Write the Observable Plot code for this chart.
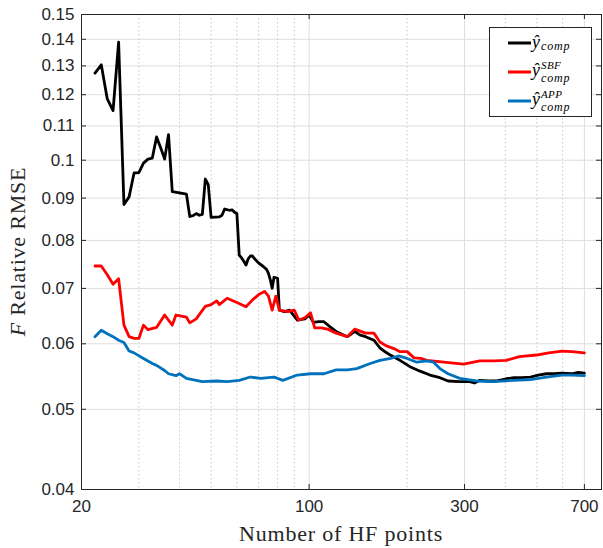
<!DOCTYPE html>
<html>
<head>
<meta charset="utf-8">
<script src="https://cdn.jsdelivr.net/npm/d3@7"></script>
<script src="https://cdn.jsdelivr.net/npm/@observablehq/plot@0.6"></script>
<style>
  html, body { margin: 0; padding: 0; background: white; }
  #wrap { position: relative; width: 603px; height: 548px; }
  #legend { position: absolute; left: 0; top: 0; pointer-events: none; }
</style>
</head>
<body>
<div id="wrap"></div>
<script>
// ---- data ----
const blackX = [22,23,24,25,26,27,28,29,30,31,32,33,34,35,36,37,38,40,42,43,44,45,46,47,48,49,50,53,54,55,57,58,59,60,61,62,63,64,65,66,67,68,70,72,74,75,76,77,78,80,81,84,87,90,92,97,100,103,107,111,116,121,126,131,135,138,143,149,158,165,172,178,190,204,219,235,252,267,290,311,322,334,355,377,400,425,450,478,505,535,565,597,640,670,700];
const blackY = [0.1274,0.1304,0.1186,0.1148,0.1389,0.0884,0.0903,0.0965,0.0966,0.0992,0.1003,0.1006,0.1067,0.1035,0.1003,0.1074,0.0916,0.0913,0.0910,0.0855,0.0857,0.0862,0.0858,0.0860,0.0949,0.0934,0.0853,0.0854,0.0858,0.0873,0.0870,0.0871,0.0865,0.0862,0.0768,0.0762,0.0755,0.0747,0.0760,0.0766,0.0766,0.0760,0.0751,0.0745,0.0738,0.0730,0.0717,0.0700,0.0722,0.0720,0.0659,0.0656,0.0659,0.0648,0.0641,0.0643,0.0650,0.0637,0.0638,0.0638,0.0629,0.0621,0.0616,0.0612,0.0617,0.0621,0.0615,0.0612,0.0606,0.0593,0.0586,0.0581,0.0573,0.0563,0.0556,0.0550,0.0546,0.0541,0.0540,0.0540,0.0538,0.0542,0.0541,0.0541,0.0544,0.0546,0.0546,0.0547,0.0550,0.0552,0.0552,0.0553,0.0552,0.0554,0.0553];

const redX = [22,23,24,25,26,27,28,29,30,31,32,34,36,38,39,42,43,45,48,50,52,53,56,60,64,67,70,73,75,77,79,81,86,90,93,97,101,104,109,114,121,131,138,149,158,165,172,182,190,200,210,220,230,259,298,334,370,403,442,508,544,597,640,700];
const redY = [0.0745,0.0745,0.0727,0.0708,0.0719,0.0632,0.0612,0.0609,0.0609,0.0632,0.0624,0.0628,0.0650,0.0632,0.0650,0.0646,0.0636,0.0643,0.0666,0.0669,0.0676,0.0669,0.0681,0.0673,0.0665,0.0678,0.0688,0.0694,0.0685,0.0659,0.0685,0.0659,0.0656,0.0659,0.0641,0.0645,0.0654,0.0627,0.0627,0.0625,0.0618,0.0612,0.0625,0.0618,0.0618,0.0603,0.0597,0.0592,0.0587,0.0587,0.0577,0.0576,0.0573,0.0570,0.0567,0.0572,0.0572,0.0573,0.0579,0.0582,0.0585,0.0588,0.0587,0.0585];

const blueX = [22,23,24,25,26,27,28,29,31,33,34,36,37,39,40,42,45,47,52,56,61,66,71,78,83,92,101,111,121,131,140,154,165,178,188,200,214,230,241,252,267,290,326,368,425,478,535,597,640,700];
const blueY = [0.0612,0.0623,0.0617,0.0612,0.0606,0.0602,0.0588,0.0585,0.0576,0.0568,0.0565,0.0557,0.0552,0.0549,0.0552,0.0545,0.0542,0.0540,0.0541,0.0540,0.0542,0.0547,0.0545,0.0547,0.0542,0.0550,0.0552,0.0552,0.0558,0.0558,0.0560,0.0568,0.0573,0.0576,0.0580,0.0576,0.0570,0.0572,0.0570,0.0560,0.0552,0.0545,0.0541,0.0540,0.0542,0.0543,0.0547,0.0550,0.0550,0.0549];

const xTicks = [20, 100, 300, 700];
const xTickLabels = ["20", "100", "300", "700"];
const xMinor = [30, 40, 50, 60, 70, 80, 90, 200, 400, 500, 600];
const yTicks = [0.04, 0.05, 0.06, 0.07, 0.08, 0.09, 0.10, 0.11, 0.12, 0.13, 0.14, 0.15];
const yTickLabels = ["0.04","0.05","0.06","0.07","0.08","0.09","0.1","0.11","0.12","0.13","0.14","0.15"];

const seriesColors = ["#000000", "#ff0000", "#0072bd"];

// ---- layout ----
const W = 603, H = 548, mL = 81, mR = 2, mT = 14, mB = 59;
const innerW = W - mL - mR, innerH = H - mT - mB;
const axisColor = "#262626";

const toRows = (xs, ys) => xs.map((x, i) => ({x, y: ys[i]}));
const tickFont = "'Liberation Sans', Arial, sans-serif";

const plot = Plot.plot({
  width: W, height: H,
  marginLeft: mL, marginRight: mR, marginTop: mT, marginBottom: mB,
  style: {fontFamily: tickFont, fontSize: "17px", color: axisColor, background: "white", overflow: "visible"},
  x: {type: "log", domain: [20, 790], axis: null},
  y: {type: "log", domain: [0.04, 0.15], axis: null},
  marks: [
    Plot.ruleY(yTicks, {y: d => d, stroke: "#dedede", strokeWidth: 1}),
    Plot.ruleX(xMinor, {x: d => d, stroke: "#c8c8c8", strokeWidth: 1, strokeDasharray: "1.5,2.5"}),
    Plot.ruleX(xTicks, {x: d => d, stroke: "#dedede", strokeWidth: 1}),
    Plot.line(toRows(blackX, blackY), {x: "x", y: "y", stroke: seriesColors[0], strokeWidth: 2.8, strokeLinejoin: "round"}),
    Plot.line(toRows(redX, redY), {x: "x", y: "y", stroke: seriesColors[1], strokeWidth: 2.8, strokeLinejoin: "round"}),
    Plot.line(toRows(blueX, blueY), {x: "x", y: "y", stroke: seriesColors[2], strokeWidth: 2.8, strokeLinejoin: "round"}),
    Plot.frame({stroke: axisColor, strokeWidth: 1}),
    // inward tick marks
    Plot.ruleX(xTicks, {x: d => d, insetTop: innerH - 5, stroke: axisColor}),
    Plot.ruleX(xTicks, {x: d => d, insetBottom: innerH - 5, stroke: axisColor}),
    Plot.ruleY(yTicks, {y: d => d, insetRight: innerW - 5, stroke: axisColor}),
    Plot.ruleY(yTicks, {y: d => d, insetLeft: innerW - 5, stroke: axisColor}),
    // tick labels
    Plot.text(xTicks, {x: d => d, frameAnchor: "bottom", dy: 22, text: (d, i) => xTickLabels[i],
      fill: axisColor, fontSize: 17, letterSpacing: 1, textAnchor: "middle"}),
    Plot.text(yTicks, {y: d => d, frameAnchor: "left", dx: -7, text: (d, i) => yTickLabels[i],
      fill: axisColor, fontSize: 17, letterSpacing: 1, textAnchor: "end"})
  ]
});

const wrap = document.getElementById("wrap");
wrap.appendChild(plot);

// axis titles (serif, LaTeX-like)
const svg = d3.select(plot);
const serif = "'Liberation Serif', 'Times New Roman', serif";
svg.append("text")
  .attr("x", mL + innerW / 2).attr("y", 541)
  .attr("text-anchor", "middle")
  .attr("font-family", serif).attr("font-size", 22).attr("letter-spacing", 0.8)
  .attr("fill", axisColor)
  .text("Number of HF points");
const yl = svg.append("text")
  .attr("transform", `translate(25, ${mT + innerH / 2}) rotate(-90)`)
  .attr("text-anchor", "middle")
  .attr("font-family", serif).attr("font-size", 22).attr("letter-spacing", 0.8)
  .attr("fill", axisColor);
yl.append("tspan").attr("font-style", "italic").text("F");
yl.append("tspan").text(" Relative RMSE");

// legend overlay
const legendSup = [null, "SBF", "APP"];
const leg = d3.select(wrap).append("svg")
  .attr("id", "legend").attr("width", W).attr("height", H);
leg.append("rect").attr("x", 489.5).attr("y", 27.5).attr("width", 102).attr("height", 89)
  .attr("fill", "white").attr("stroke", axisColor).attr("stroke-width", 1);
const rowY = [43, 72, 101];
legendSup.forEach((sup, i) => {
  const cy = rowY[i];
  leg.append("line").attr("x1", 508).attr("x2", 531).attr("y1", cy).attr("y2", cy)
    .attr("stroke", seriesColors[i]).attr("stroke-width", 3);
  leg.append("text").attr("x", 532).attr("y", sup ? cy + 4 : cy + 5)
    .attr("font-family", serif).attr("font-style", "italic").attr("font-size", 18)
    .attr("fill", "#000").text("ŷ");
  leg.append("text").attr("x", 541).attr("y", sup ? cy + 9.5 : cy + 7)
    .attr("font-family", serif).attr("font-style", "italic").attr("font-size", 12).attr("letter-spacing", 0.8)
    .attr("fill", "#000").text("comp");
  if (sup) {
    leg.append("text").attr("x", 541).attr("y", cy - 3.5)
      .attr("font-family", serif).attr("font-style", "italic").attr("font-size", 11).attr("letter-spacing", 0.4)
      .attr("fill", "#000").text(sup);
  }
});
</script>
</body>
</html>
